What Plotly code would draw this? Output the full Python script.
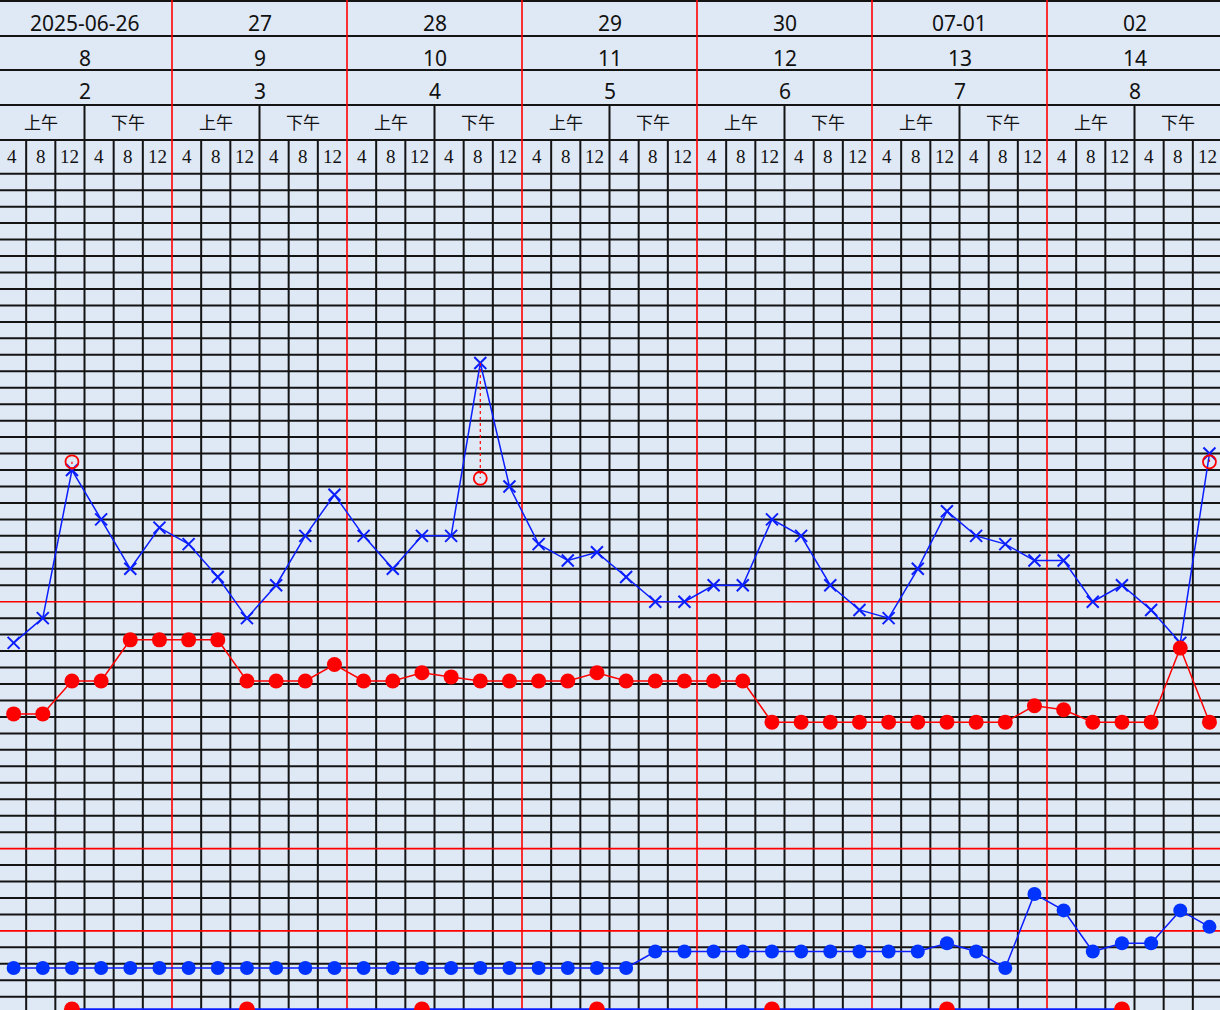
import plotly.graph_objects as go

# ---------------- data ----------------
dates = ["2025-06-26", "27", "28", "29", "30", "07-01", "02"]
hospital_days = ["8", "9", "10", "11", "12", "13", "14"]
postop_days = ["2", "3", "4", "5", "6", "7", "8"]
half_day_labels = ["上午", "下午"]
hour_labels = ["4", "8", "12", "4", "8", "12"]

# temperature (°C), one per 4-hour slot, 42 slots
temperature = [36.5, 36.8, 38.6, 38.0, 37.4, 37.9,
               37.7, 37.3, 36.8, 37.2, 37.8, 38.3,
               37.8, 37.4, 37.8, 37.8, 39.9, 38.4,
               37.7, 37.5, 37.6, 37.3, 37.0, 37.0,
               37.2, 37.2, 38.0, 37.8, 37.2, 36.9,
               36.8, 37.4, 38.1, 37.8, 37.7, 37.5,
               37.5, 37.0, 37.2, 36.9, 36.5, 38.8]
# re-measured temperature after cooling
cooled_slot = [2, 16, 41]
cooled_temp = [38.7, 38.5, 38.7]

# pulse (bpm)
pulse = [62, 62, 70, 70, 80, 80,
         80, 80, 70, 70, 70, 74,
         70, 70, 72, 71, 70, 70,
         70, 70, 72, 70, 70, 70,
         70, 70, 60, 60, 60, 60,
         60, 60, 60, 60, 60, 64,
         63, 60, 60, 60, 78, 60]

# respiration (breaths/min)
respiration = [18, 18, 18, 18, 18, 18,
               18, 18, 18, 18, 18, 18,
               18, 18, 18, 18, 18, 18,
               18, 18, 18, 18, 20, 20,
               20, 20, 20, 20, 20, 20,
               20, 20, 21, 20, 18, 27,
               25, 20, 21, 21, 25, 23]

# bottom score row
score_slot = [2, 8, 14, 20, 26, 32, 38]
score = [0, 0, 0, 0, 0, 0, 0]

# ---------------- geometry ----------------
W, H = 1220, 1010
X0 = -3.0            # pixel of left edge of first slot
CW = 175.0 / 6.0     # slot width in px
ROW = 16.46          # grid row height in px
MARK_SHIFT = 0.07    # marks sit slightly right of slot centre


def temp_at(p):
    return 37.0 + (601.7 - p) / (5 * ROW)


def pulse_at(p):
    return 70.0 + (681.0 - p) / (ROW / 4.0)


def resp_at(p):
    return 18.0 + (968.0 - p) / (ROW / 2.0)


def score_at(p):
    return (1009.5 - p) / ROW


def slot_at(px):
    return (px - X0) / CW - 0.5


def py(p):
    return 1 - p / H


n_slots = len(temperature)
xs = [i + MARK_SHIFT for i in range(n_slots)]

BG = "#dfe8f5"
BLACK = "#141414"
RED = "#ff0000"
BLUE = "#0a1eff"

fig = go.Figure()

# temperature line with X markers
fig.add_trace(go.Scatter(
    x=xs, y=temperature, mode="lines+markers",
    line=dict(color=BLUE, width=1.5),
    marker=dict(symbol="x-thin", size=12, line=dict(color=BLUE, width=2)),
    yaxis="y", hoverinfo="skip", showlegend=False))

# dotted connectors to cooled temperature
for s, t in zip(cooled_slot, cooled_temp):
    fig.add_trace(go.Scatter(
        x=[xs[s], xs[s]], y=[temperature[s], t], mode="lines",
        line=dict(color=RED, width=1.2, dash="dot"),
        yaxis="y", hoverinfo="skip", showlegend=False))

fig.add_trace(go.Scatter(
    x=[xs[s] for s in cooled_slot], y=cooled_temp, mode="markers",
    marker=dict(symbol="circle-open", size=13, color=RED, line=dict(color=RED, width=1.8)),
    yaxis="y", hoverinfo="skip", showlegend=False))

# pulse
fig.add_trace(go.Scatter(
    x=xs, y=pulse, mode="lines+markers",
    line=dict(color=RED, width=1.5),
    marker=dict(symbol="circle", size=15, color=RED),
    yaxis="y2", hoverinfo="skip", showlegend=False))

# respiration
fig.add_trace(go.Scatter(
    x=xs, y=respiration, mode="lines+markers",
    line=dict(color=BLUE, width=1.5),
    marker=dict(symbol="circle", size=14, color="#0033ff"),
    yaxis="y3", hoverinfo="skip", showlegend=False))

# bottom score row
fig.add_trace(go.Scatter(
    x=[xs[s] for s in score_slot], y=score, mode="lines+markers",
    line=dict(color=BLUE, width=2.5),
    marker=dict(symbol="circle", size=16, color=RED),
    yaxis="y4", hoverinfo="skip", showlegend=False))

# ---------------- grid shapes ----------------
shapes = []
header_lines = [1, 36, 70, 105, 140]
for p in header_lines:
    shapes.append(dict(type="line", xref="paper", yref="paper", x0=0, x1=1,
                       y0=py(p), y1=py(p), line=dict(color=BLACK, width=2), layer="below"))

# horizontal grid rows from 42.2 down to 32.2 in 0.2 steps
for j in range(51):
    t = 42.2 - 0.2 * j
    red = any(abs(t - r) < 1e-6 for r in (37.0, 34.0, 33.0))
    if red:
        continue
    shapes.append(dict(type="line", xref="paper", yref="y", x0=0, x1=1,
                       y0=t, y1=t, line=dict(color=BLACK, width=2), layer="below"))

# vertical lines
for k in range(n_slots + 1):
    xb = k - 0.5
    if k % 6 == 0:
        continue
    top = 105 if k % 3 == 0 else 140
    shapes.append(dict(type="line", xref="x", yref="paper", x0=xb, x1=xb,
                       y0=py(top), y1=0, line=dict(color=BLACK, width=2), layer="below"))

# red horizontal lines
for t in (37.0, 34.0, 33.0):
    shapes.append(dict(type="line", xref="paper", yref="y", x0=0, x1=1,
                       y0=t, y1=t, line=dict(color=RED, width=1.6), layer="below"))
# red day separators
for k in range(0, n_slots + 1, 6):
    xb = k - 0.5
    shapes.append(dict(type="line", xref="x", yref="paper", x0=xb, x1=xb,
                       y0=1, y1=0, line=dict(color=RED, width=1.6), layer="below"))

# ---------------- header text ----------------
ann = []
SANS = "Noto Sans"
for d in range(7):
    cx = 6 * d + 2.5
    ann.append(dict(x=cx, y=py(22.5), xref="x", yref="paper", text=dates[d], showarrow=False,
                    font=dict(family=SANS, size=21, color="#111111"), xanchor="center", yanchor="middle"))
    ann.append(dict(x=cx, y=py(57.5), xref="x", yref="paper", text=hospital_days[d], showarrow=False,
                    font=dict(family=SANS, size=21, color="#111111"), xanchor="center", yanchor="middle"))
    ann.append(dict(x=cx, y=py(91.5), xref="x", yref="paper", text=postop_days[d], showarrow=False,
                    font=dict(family=SANS, size=21, color="#111111"), xanchor="center", yanchor="middle"))
    for h in range(2):
        ann.append(dict(x=6 * d + 3 * h + 1, y=py(121), xref="x", yref="paper", text=half_day_labels[h],
                        showarrow=False, font=dict(family="Noto Sans CJK SC", size=17, color="#111111"),
                        xanchor="center", yanchor="middle"))
    for i in range(6):
        ann.append(dict(x=6 * d + i, y=py(156), xref="x", yref="paper", text=hour_labels[i],
                        showarrow=False, font=dict(family="Liberation Serif", size=19, color="#111111"),
                        xanchor="center", yanchor="middle"))

axis_common = dict(showgrid=False, zeroline=False, showticklabels=False, ticks="",
                   showline=False, fixedrange=True)

fig.update_layout(
    width=W, height=H,
    margin=dict(l=0, r=0, t=0, b=0),
    paper_bgcolor=BG, plot_bgcolor=BG,
    showlegend=False,
    xaxis=dict(range=[slot_at(0), slot_at(W)], domain=[0, 1], **axis_common),
    yaxis=dict(range=[temp_at(H), temp_at(0)], domain=[0, 1], **axis_common),
    yaxis2=dict(range=[pulse_at(H), pulse_at(0)], overlaying="y", **axis_common),
    yaxis3=dict(range=[resp_at(H), resp_at(0)], overlaying="y", **axis_common),
    yaxis4=dict(range=[score_at(H), score_at(0)], overlaying="y", **axis_common),
    shapes=shapes,
    annotations=ann,
)

fig.write_html("out.html", config={"displayModeBar": False},
               post_script="document.body.style.margin='0';document.body.style.overflow='hidden';")
